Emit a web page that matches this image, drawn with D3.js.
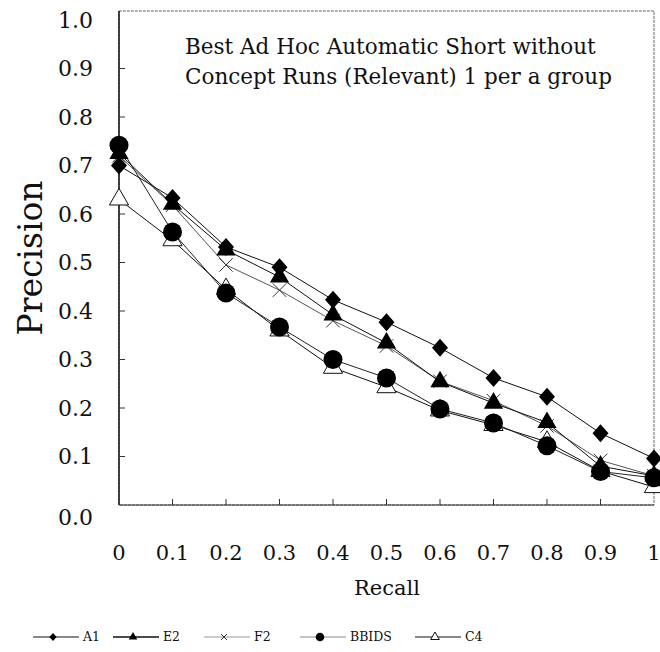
<!DOCTYPE html>
<html>
<head>
<meta charset="utf-8">
<script src="https://cdn.jsdelivr.net/npm/d3@7"></script>
<style>
  body { margin: 0; background: #fff; }
  text { font-family: "DejaVu Serif", "Liberation Serif", serif; fill: #111; }
</style>
</head>
<body>
<script>
var width  = 660,
    height = 652;

// recall points and precision per run
var recall = [0, 0.1, 0.2, 0.3, 0.4, 0.5, 0.6, 0.7, 0.8, 0.9, 1];
var seriesNames = ['A1', 'E2', 'F2', 'BBIDS', 'C4'];
var a1    = [0.700, 0.633, 0.532, 0.490, 0.423, 0.377, 0.324, 0.262, 0.223, 0.148, 0.096];
var e2    = [0.725, 0.620, 0.526, 0.470, 0.392, 0.334, 0.254, 0.210, 0.170, 0.080, 0.060];
var f2    = [0.720, 0.618, 0.495, 0.443, 0.380, 0.328, 0.255, 0.215, 0.163, 0.092, 0.060];
var bbids = [0.742, 0.563, 0.437, 0.367, 0.300, 0.262, 0.198, 0.169, 0.122, 0.069, 0.056];
var c4    = [0.630, 0.546, 0.445, 0.360, 0.283, 0.243, 0.195, 0.165, 0.130, 0.070, 0.037];
var yTicks = [0, 0.1, 0.2, 0.3, 0.4, 0.5, 0.6, 0.7, 0.8, 0.9, 1.0];
var titleLines = ['Best Ad Hoc Automatic Short without', 'Concept Runs (Relevant) 1 per a group'];

var series = [
  {name: 'A1',    values: a1,    marker: 'diamond',  line: '#111'},
  {name: 'E2',    values: e2,    marker: 'triangle', line: '#111'},
  {name: 'F2',    values: f2,    marker: 'cross',    line: '#555'},
  {name: 'BBIDS', values: bbids, marker: 'circle',   line: '#222'},
  {name: 'C4',    values: c4,    marker: 'opentri',  line: '#111'}
];

var svg = d3.select('body').append('svg')
    .attr('width', width)
    .attr('height', height);

var x = d3.scaleLinear().domain([0, 1]).range([119, 654]);
var y = d3.scaleLinear().domain([0, 1]).range([505, 20]);

// frame
svg.append('rect')
    .attr('x', 119).attr('y', 11)
    .attr('width', 654 - 119).attr('height', 505 - 11)
    .attr('fill', 'none')
    .attr('stroke', '#666')
    .attr('stroke-width', 1)
    .attr('stroke-dasharray', '3,1');
svg.append('line')
    .attr('x1', 119).attr('x2', 119)
    .attr('y1', 11).attr('y2', 505)
    .attr('stroke', '#111').attr('stroke-width', 1.5);
svg.append('line')
    .attr('x1', 119).attr('x2', 654)
    .attr('y1', 505).attr('y2', 505)
    .attr('stroke', '#333').attr('stroke-width', 1.2);

// inward ticks
svg.selectAll('.ytick')
    .data(yTicks.slice(1, -1))
  .enter().append('line')
    .attr('x1', 119).attr('x2', 125)
    .attr('y1', function(d) { return y(d); })
    .attr('y2', function(d) { return y(d); })
    .attr('stroke', '#333');
svg.selectAll('.xtick')
    .data(recall.slice(1, -1))
  .enter().append('line')
    .attr('x1', function(d) { return x(d); })
    .attr('x2', function(d) { return x(d); })
    .attr('y1', 505).attr('y2', 499)
    .attr('stroke', '#333');

// tick labels
svg.selectAll('.ylab')
    .data(yTicks)
  .enter().append('text')
    .attr('x', 93)
    .attr('y', function(d) { return d === 0 ? y(d) + 12 : y(d); })
    .attr('dy', '0.35em')
    .attr('text-anchor', 'end')
    .style('font-size', '22px')
    .text(function(d) { return d3.format('.1f')(d); });

svg.selectAll('.xlab')
    .data(recall)
  .enter().append('text')
    .attr('x', function(d) { return x(d); })
    .attr('y', 553)
    .attr('dy', '0.35em')
    .attr('text-anchor', 'middle')
    .style('font-size', '21px')
    .text(function(d) { return d === 0 || d === 1 ? d : d3.format('.1f')(d); });

// axis titles
svg.append('text')
    .attr('transform', 'translate(30,258) rotate(-90)')
    .attr('text-anchor', 'middle')
    .attr('dy', '0.35em')
    .style('font-size', '33px')
    .text('Precision');
svg.append('text')
    .attr('x', 387).attr('y', 588)
    .attr('dy', '0.35em')
    .attr('text-anchor', 'middle')
    .style('font-size', '21px')
    .text('Recall');

// chart title inside plot
svg.selectAll('.title')
    .data(titleLines)
  .enter().append('text')
    .attr('x', 185)
    .attr('y', function(d, i) { return 46 + i * 30; })
    .attr('dy', '0.35em')
    .style('font-size', '21.5px')
    .text(function(d) { return d; });

var line = d3.line()
    .x(function(d, i) { return x(recall[i]); })
    .y(function(d) { return y(d); });

function drawMarker(g, type, size) {
  var s = size || 1;
  if (type === 'diamond') {
    var w = 8 * s, h = 9 * s;
    g.append('path').attr('d', 'M0,' + (-h) + 'L' + w + ',0L0,' + h + 'L' + (-w) + ',0Z')
        .attr('fill', '#000');
  } else if (type === 'triangle') {
    g.append('path').attr('d', d3.symbol(d3.symbolTriangle, 160 * s * s)())
        .attr('fill', '#000');
  } else if (type === 'opentri') {
    g.append('path').attr('d', d3.symbol(d3.symbolTriangle, 160 * s * s)())
        .attr('fill', '#fff').attr('stroke', '#111').attr('stroke-width', 1);
  } else if (type === 'circle') {
    g.append('circle').attr('r', 9.5 * s).attr('fill', '#000');
  } else if (type === 'cross') {
    g.append('path').attr('d', d3.symbol(d3.symbolX, 120 * s * s)())
        .attr('fill', 'none').attr('stroke', '#333').attr('stroke-width', 1);
  }
}

// draw back to front so circles sit over the open triangles
var order = ['C4', 'F2', 'BBIDS', 'A1', 'E2'];
order.forEach(function(name) {
  var s = series.find(function(d) { return d.name === name; });
  svg.append('path')
      .attr('d', line(s.values))
      .attr('fill', 'none')
      .attr('stroke', s.line)
      .attr('stroke-width', 1);
});
order.forEach(function(name) {
  var s = series.find(function(d) { return d.name === name; });
  s.values.forEach(function(v, i) {
    var g = svg.append('g')
        .attr('transform', 'translate(' + x(recall[i]) + ',' + y(v) + ')');
    drawMarker(g, s.marker, 1);
  });
});

// legend
var legendX = [33, 113, 204, 300, 415];
var legend = svg.selectAll('.legend')
    .data(series)
  .enter().append('g')
    .attr('transform', function(d, i) { return 'translate(' + legendX[i] + ',637)'; });
legend.append('line')
    .attr('x1', 0).attr('x2', 46)
    .attr('stroke', function(d) { return d.name === 'F2' ? '#999' : (d.name === 'BBIDS' ? '#888' : '#111'); })
    .attr('stroke-width', function(d) { return d.name === 'E2' ? 1.5 : 1; });
legend.each(function(d) {
  var g = d3.select(this).append('g').attr('transform', 'translate(20,0)');
  drawMarker(g, d.marker, 0.45);
});
legend.append('text')
    .attr('x', 50)
    .attr('dy', '0.35em')
    .style('font-size', '12.5px')
    .text(function(d) { return d.name; });
</script>
</body>
</html>
